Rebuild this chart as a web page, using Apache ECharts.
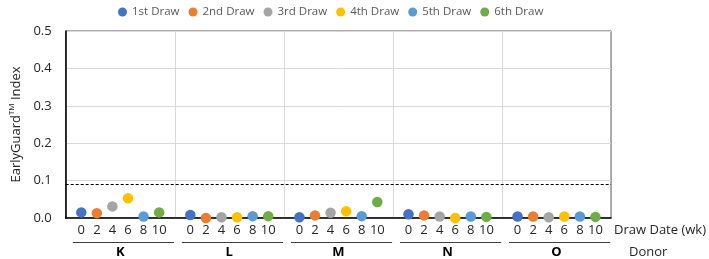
<!DOCTYPE html>
<html>
<head>
<meta charset="utf-8">
<script src="https://cdn.jsdelivr.net/npm/echarts@6/dist/echarts.min.js"></script>
<style>html,body{margin:0;padding:0;background:#fff}#c{width:709px;height:259px}</style>
</head>
<body>
<div id="c"></div>
<script>
const donors = ['K', 'L', 'M', 'N', 'O'];
const drawDates = ['0', '2', '4', '6', '8', '10'];
const seriesNames = ['1st Draw', '2nd Draw', '3rd Draw', '4th Draw', '5th Draw', '6th Draw'];
// values per donor (K, L, M, N, O)
const draw1 = [0.015, 0.008, 0.002, 0.010, 0.004];
const draw2 = [0.013, 0.000, 0.007, 0.007, 0.004];
const draw3 = [0.031, 0.002, 0.014, 0.004, 0.002];
const draw4 = [0.053, 0.002, 0.018, 0.000, 0.004];
const draw5 = [0.004, 0.005, 0.005, 0.004, 0.004];
const draw6 = [0.015, 0.005, 0.043, 0.003, 0.003];
const cutoff = 0.088;
const yTicks = [0, 0.1, 0.2, 0.3, 0.4, 0.5];

const colors = ['#4472C4', '#ED7D31', '#A5A5A5', '#FFC000', '#5B9BD5', '#70AD47'];
const allDraws = [draw1, draw2, draw3, draw4, draw5, draw6];
const FONT = 'Open Sans';

// category slots: a spacer before each donor group, then the six draw dates
const cats = [];
donors.forEach(() => { cats.push(''); drawDates.forEach(d => cats.push(d)); });
cats.push('');
const slot = (g, d) => g * 7 + d + 1;

const series = allDraws.map((vals, d) => ({
  name: seriesNames[d],
  type: 'scatter',
  symbolSize: 10.5,
  itemStyle: { color: colors[d], opacity: 1 },
  data: vals.map((v, g) => [slot(g, d), v]),
  z: 5
}));
series[0].markLine = {
  silent: true, symbol: ['none', 'none'], label: { show: false },
  lineStyle: { color: '#000', type: [3, 2], width: 1 },
  data: [{ yAxis: cutoff }]
};
series.push({
  type: 'custom',
  silent: true,
  clip: false,
  data: donors.map((_, g) => [g * 7, 0]),
  encode: { x: 0, y: 1 },
  renderItem: (params, api) => {
    const s = api.value(0);
    const a = api.coord([s, 0]);
    const b = api.coord([s + 7, 0]);
    const w = b[0] - a[0];
    const y = a[1] + 24.5;
    return {
      type: 'line',
      shape: { x1: a[0] + w * 0.065, y1: y, x2: a[0] + w * 0.993, y2: y },
      style: { stroke: '#404040', lineWidth: 1 }
    };
  }
});

const chart = echarts.init(document.getElementById('c'), null, { renderer: 'canvas' });
chart.setOption({
  animation: false,
  textStyle: { fontFamily: FONT },
  color: colors,
  legend: {
    data: seriesNames, top: 1, left: 113, icon: 'circle',
    itemWidth: 9, itemHeight: 9, itemGap: 9,
    textStyle: { fontFamily: FONT, fontSize: 11.5, color: '#595959' }
  },
  grid: { left: 60, right: 94, top: 31, bottom: 40, show: true, borderColor: '#595959', borderWidth: 1 },
  xAxis: [{
    type: 'category', data: cats, boundaryGap: false,
    axisLine: { show: true, lineStyle: { color: '#000', width: 1.5 } },
    axisTick: { show: false },
    axisLabel: { interval: 0, margin: 6, fontSize: 13, color: '#262626', fontFamily: FONT },
    splitLine: { show: true, interval: (i) => i % 7 === 0 && i > 0 && i < cats.length - 1, lineStyle: { color: '#d9d9d9' } },
    name: 'Draw Date (wk)', nameLocation: 'end', nameGap: 3,
    nameTextStyle: { fontSize: 13, color: '#262626', verticalAlign: 'top', padding: [6, 0, 0, 0], fontFamily: FONT }
  }, {
    type: 'category', data: donors, position: 'bottom', offset: 28,
    axisLine: { show: false }, axisTick: { show: false },
    axisLabel: { margin: 0, fontSize: 13, fontWeight: 'bold', color: '#000', fontFamily: FONT },
    splitLine: { show: false },
    name: 'Donor', nameLocation: 'end', nameGap: 18,
    nameTextStyle: { fontSize: 13, color: '#262626', verticalAlign: 'top', padding: [0, 0, 0, 0], fontFamily: FONT }
  }],
  yAxis: {
    type: 'value', min: yTicks[0], max: yTicks[yTicks.length - 1], interval: 0.1,
    axisLine: { show: true, lineStyle: { color: '#000', width: 1.5 } },
    axisTick: { show: false },
    axisLabel: { margin: 14, fontSize: 13, color: '#262626', formatter: v => v.toFixed(1), fontFamily: FONT },
    splitLine: { lineStyle: { color: '#d9d9d9' } },
    name: 'EarlyGuard{sup|TM} Index', nameLocation: 'middle', nameGap: 41,
    nameTextStyle: {
      fontSize: 13, color: '#262626', fontFamily: FONT,
      rich: { sup: { fontSize: 8, color: '#262626', padding: [0, 0, 8, 0], fontFamily: FONT } }
    }
  },
  series: series
});
</script>
</body>
</html>
